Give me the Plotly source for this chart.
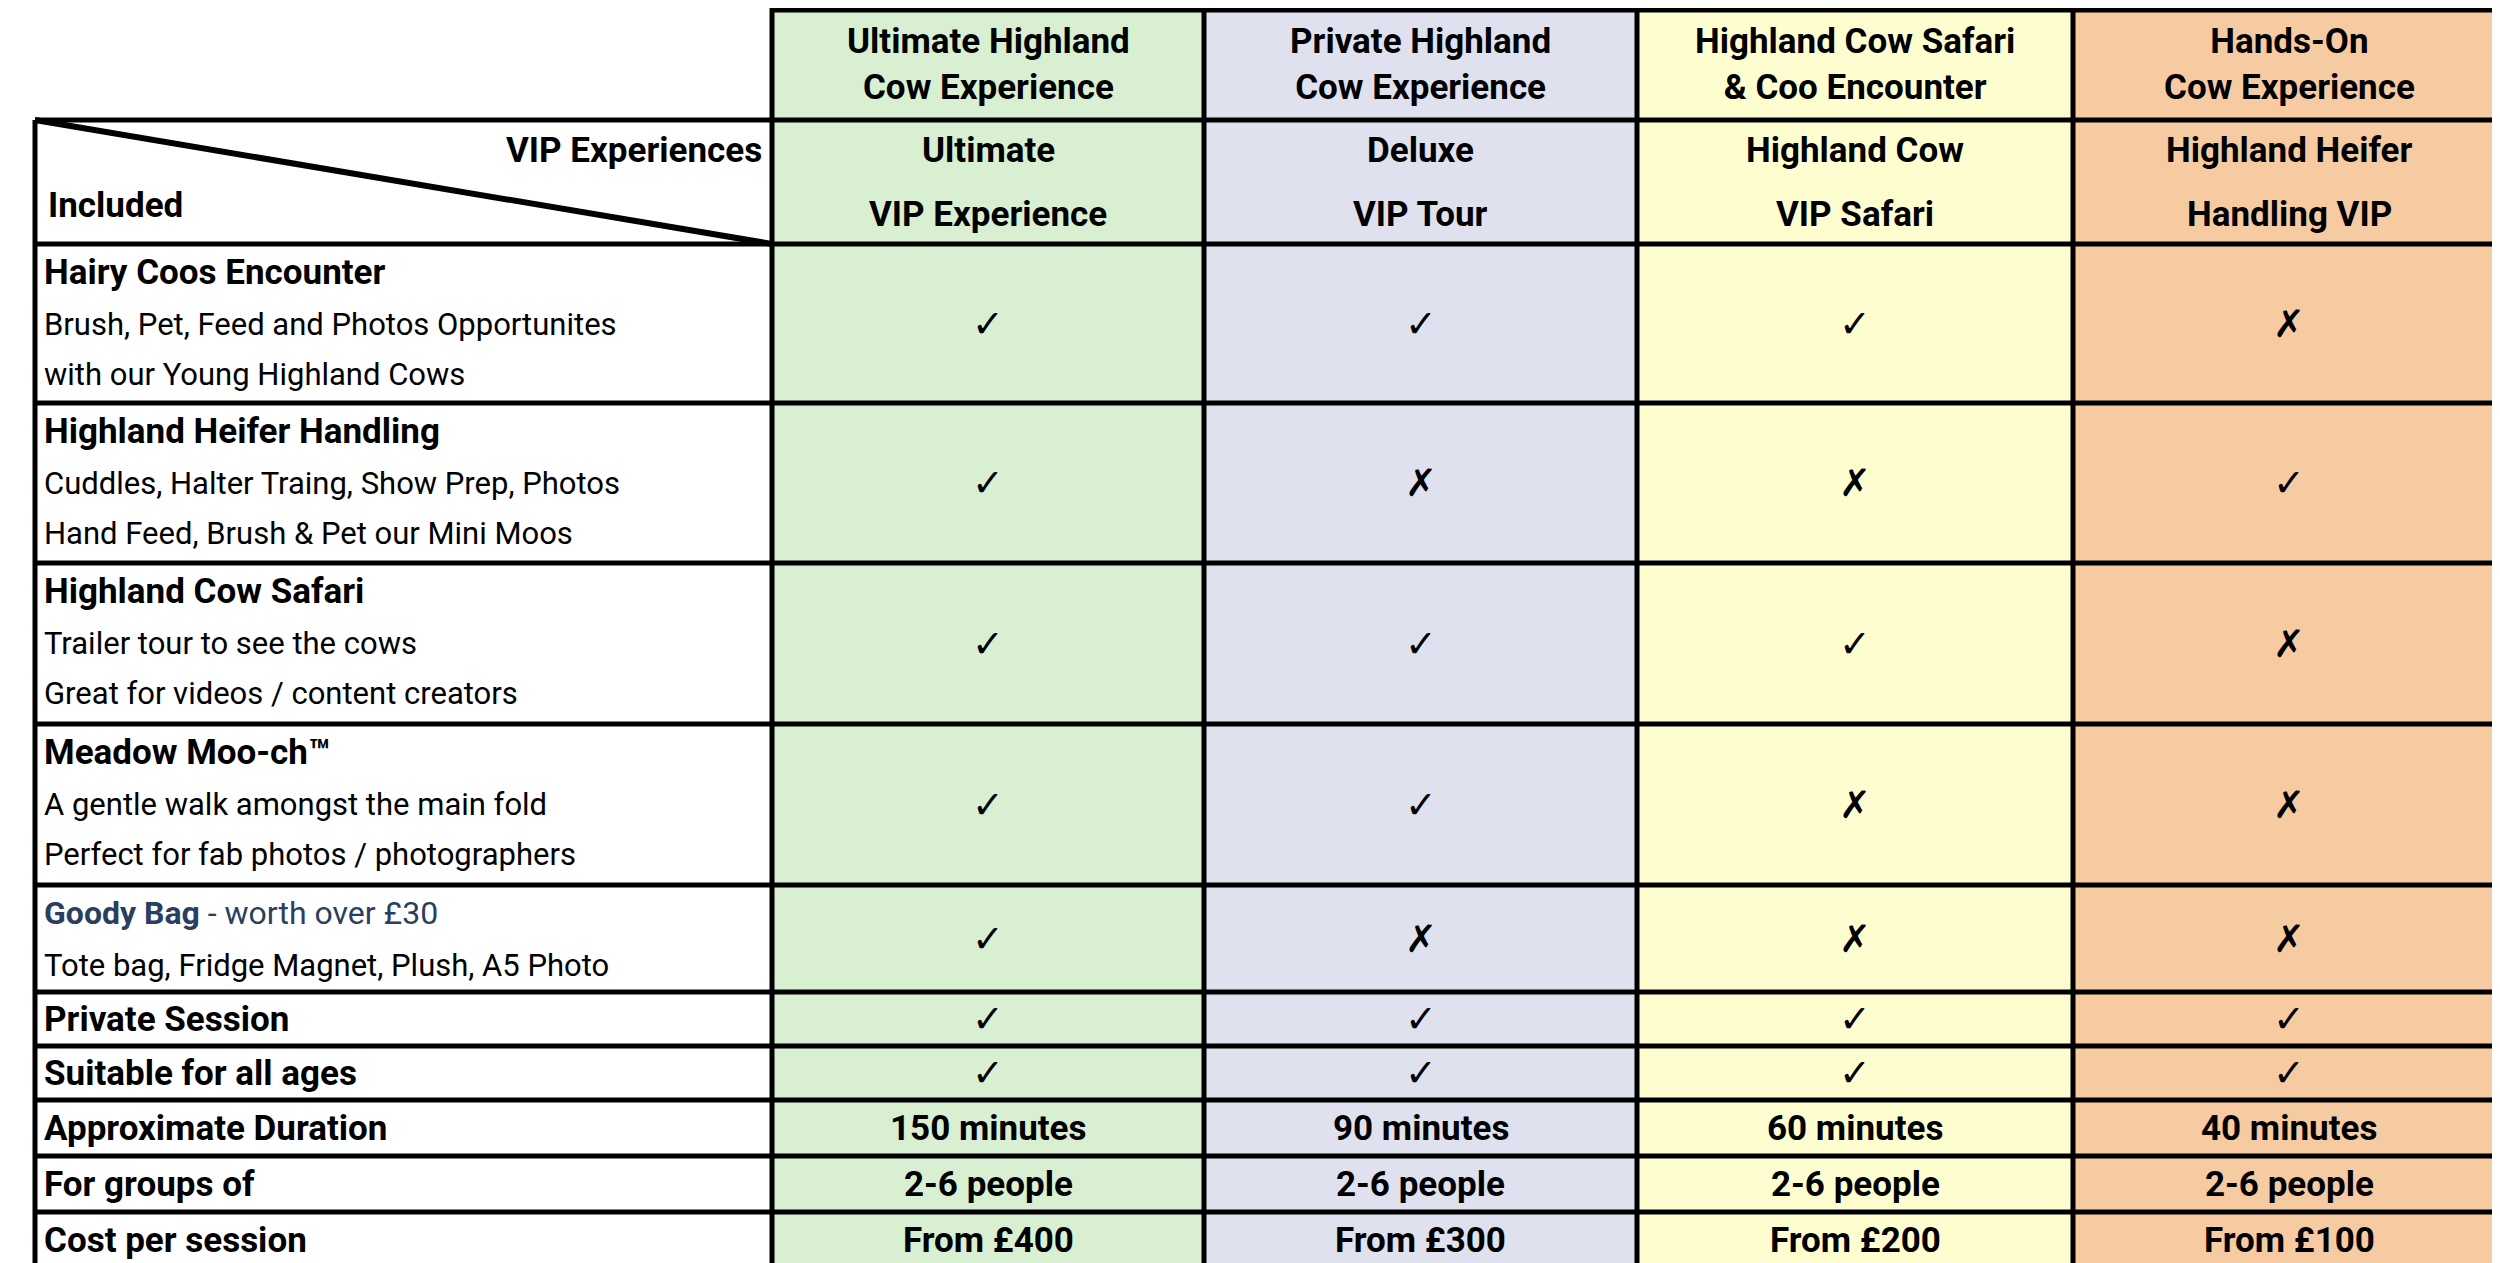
import plotly.graph_objects as go

# column headers
top_titles = ["Ultimate Highland<br>Cow Experience", "Private Highland<br>Cow Experience",
              "Highland Cow Safari<br>& Coo Encounter", "Hands-On<br>Cow Experience"]
vip_line1 = ["Ultimate", "Deluxe", "Highland Cow", "Highland Heifer"]
vip_line2 = ["VIP Experience", "VIP Tour", "VIP Safari", "Handling VIP"]
col_colors = ["#d9efd2", "#dfe1ee", "#fefdd0", "#f7cba2"]

# feature rows
features = ["Hairy Coos Encounter", "Highland Heifer Handling", "Highland Cow Safari",
            "Meadow Moo-ch™", "Goody Bag", "Private Session", "Suitable for all ages"]
feature_notes = [["Brush, Pet, Feed and Photos Opportunites", "with our Young Highland Cows"],
                 ["Cuddles, Halter Traing, Show Prep, Photos", "Hand Feed, Brush & Pet our Mini Moos"],
                 ["Trailer tour to see the cows", "Great for videos / content creators"],
                 ["A gentle walk amongst the main fold", "Perfect for fab photos / photographers"],
                 ["Tote bag, Fridge Magnet, Plush, A5 Photo"],
                 [], []]
included = [[1, 1, 1, 0],
            [1, 0, 0, 1],
            [1, 1, 1, 0],
            [1, 1, 0, 0],
            [1, 0, 0, 0],
            [1, 1, 1, 1],
            [1, 1, 1, 1]]

info_labels = ["Approximate Duration", "For groups of", "Cost per session"]
durations = ["150 minutes", "90 minutes", "60 minutes", "40 minutes"]
groups = ["2-6 people", "2-6 people", "2-6 people", "2-6 people"]
costs = ["From £400", "From £300", "From £200", "From £100"]

# layout grid
xs = [27, 764, 1196, 1629, 2065, 2497]
ys = [0, 112, 236, 395, 555, 716, 877, 984, 1038, 1092, 1148, 1204, 1260]

FONT = "Roboto"
shapes = []
ann = []

def text(x, y, s, size, bold=False, xanchor="center"):
    if bold:
        s = "<b>" + s + "</b>"
    ann.append(dict(x=x, y=y, text=s, showarrow=False, xanchor=xanchor, yanchor="middle",
                    font=dict(family=FONT, size=size, color="black"), xref="x", yref="y"))

# column fills
for c in range(4):
    shapes.append(dict(type="rect", x0=xs[c + 1], x1=xs[c + 2], y0=ys[0], y1=ys[-1],
                       fillcolor=col_colors[c], line_width=0, layer="below"))

line = dict(color="black", width=5)
# horizontal lines
for i, y in enumerate(ys[1:]):
    shapes.append(dict(type="line", x0=xs[0], x1=xs[-1], y0=y, y1=y, line=line))
shapes.append(dict(type="line", x0=xs[1], x1=xs[-1], y0=2, y1=2, line=line))
# vertical lines
shapes.append(dict(type="line", x0=xs[0], x1=xs[0], y0=ys[1], y1=ys[-1], line=line))
for x in xs[1:]:
    shapes.append(dict(type="line", x0=x, x1=x, y0=ys[0], y1=ys[-1], line=line))
# diagonal
shapes.append(dict(type="line", x0=xs[0], x1=xs[1], y0=ys[1], y1=ys[2], line=dict(color="black", width=6)))

# headers
for c in range(4):
    cx = (xs[c + 1] + xs[c + 2]) / 2
    text(cx, ys[1] / 2, top_titles[c], 35, True)
    text(cx, 142, vip_line1[c], 35, True)
    text(cx, 206, vip_line2[c], 35, True)
text(xs[1] - 8, 142, "VIP Experiences", 35, True, "right")
ann[-1]["xanchor"] = "right"
text(38, 197, "Included", 35, True, "left")

# feature rows
for r, f in enumerate(features):
    y0, y1 = ys[r + 2], ys[r + 3]
    notes = feature_notes[r]
    if r == 4:
        ann.append(dict(x=34, y=y0 + 28, text="<b>Goody Bag</b> - worth over £30", showarrow=False,
                        xanchor="left", yanchor="middle", font=dict(family=FONT, size=32), xref="x", yref="y"))
    elif notes:
        text(34, y0 + 28, f, 35, True, "left")
    else:
        text(34, (y0 + y1) / 2, f, 35, True, "left")
    for k, n in enumerate(notes):
        text(34, y0 + 80 + k * 50 if r != 4 else y0 + 80, n, 31, False, "left")
    for c in range(4):
        cx = (xs[c + 1] + xs[c + 2]) / 2
        text(cx, (y0 + y1) / 2 + (20 if notes and r != 4 else 0) if False else (y0 + y1) / 2,
             "✓" if included[r][c] else "✗", 38)

for r, lab in enumerate(info_labels):
    y0, y1 = ys[r + 9], ys[r + 10]
    text(34, (y0 + y1) / 2, lab, 35, True, "left")
    vals = [durations, groups, costs][r]
    for c in range(4):
        cx = (xs[c + 1] + xs[c + 2]) / 2
        text(cx, (y0 + y1) / 2, vals[c], 35, True)

fig = go.Figure()
fig.update_layout(width=2500, height=1263, margin=dict(l=0, r=0, t=0, b=0),
                  plot_bgcolor="white", paper_bgcolor="white", shapes=shapes, annotations=ann,
                  xaxis=dict(range=[0, 2500], visible=False, fixedrange=True),
                  yaxis=dict(range=[1263, 0], visible=False, fixedrange=True),
                  showlegend=False)
fig.write_html("out.html")
